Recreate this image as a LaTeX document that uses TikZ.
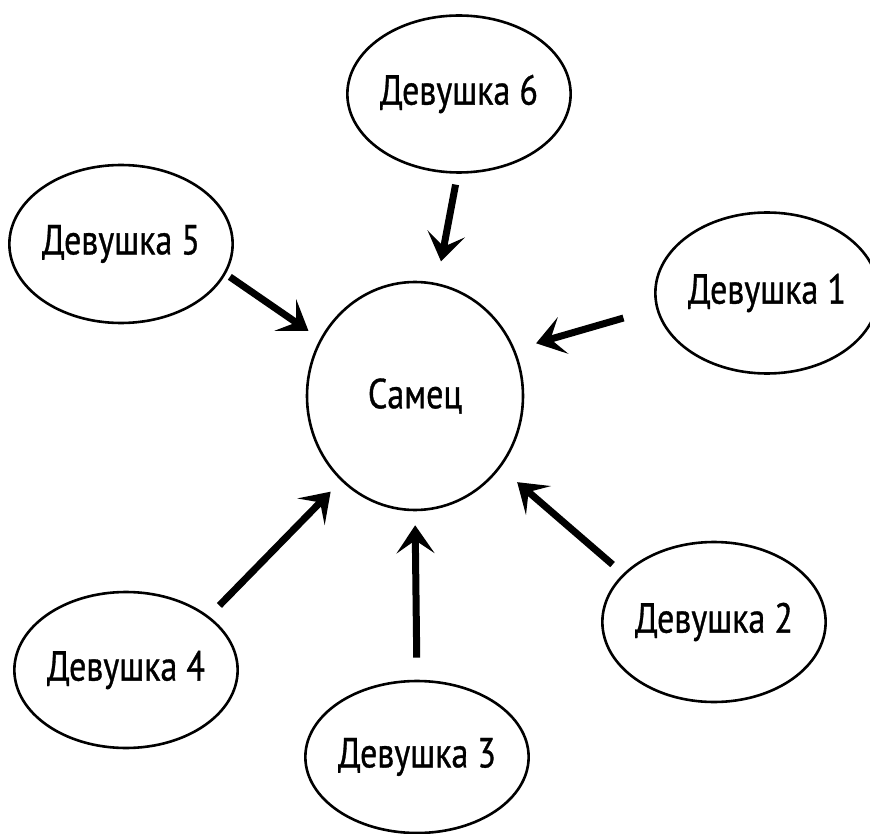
\documentclass[tikz,border=0pt]{standalone}
\usepackage{fontspec}
\newfontfamily\condfont[FakeStretch=0.81,FakeBold=0.8]{PT Sans}
\usetikzlibrary{shapes.geometric,arrows.meta}
\begin{document}
\begin{tikzpicture}[x=1pt,y=-1pt,
  blob/.style={ellipse, draw, line width=2.6pt, inner sep=0pt,
    font=\condfont\fontsize{42}{42}\selectfont},
  arr/.style={line width=7pt, -{Stealth[length=28pt,width=38pt,inset=13pt]}}]
\useasboundingbox (0,0) rectangle (870,834);
\node[blob, minimum width=216pt, minimum height=228pt] (m) at (415,396) {Самец};
\node[blob, minimum width=206pt, minimum height=161pt] (g1) at (767,293) {Девушка 1};
\node[blob, minimum width=215pt, minimum height=160pt] (g2) at (714,622) {Девушка 2};
\node[blob, minimum width=216pt, minimum height=152pt] (g3) at (417,757) {Девушка 3};
\node[blob, minimum width=216pt, minimum height=156pt] (g4) at (126,670) {Девушка 4};
\node[blob, minimum width=217pt, minimum height=158pt] (g5) at (121,244) {Девушка 5};
\node[blob, minimum width=222pt, minimum height=157pt] (g6) at (459,94) {Девушка 6};
\draw[arr, shorten <=34pt, shorten >=22pt] (g1.-172) -- (m.25);
\draw[arr, shorten <=14pt, shorten >=22pt] (g2.152) -- (m.-40);
\draw[arr, shorten <=22pt, shorten >=14pt] (g3.90) -- (m.-90);
\draw[arr, shorten <=15pt, shorten >=15pt] (g4.33) -- (m.-131);
\draw[arr, shorten <=5pt, shorten >=14pt] (g5.-16) -- (m.149);
\draw[arr, shorten <=11pt, shorten >=22pt] (g6.-91) -- (m.79);
\end{tikzpicture}
\end{document}
